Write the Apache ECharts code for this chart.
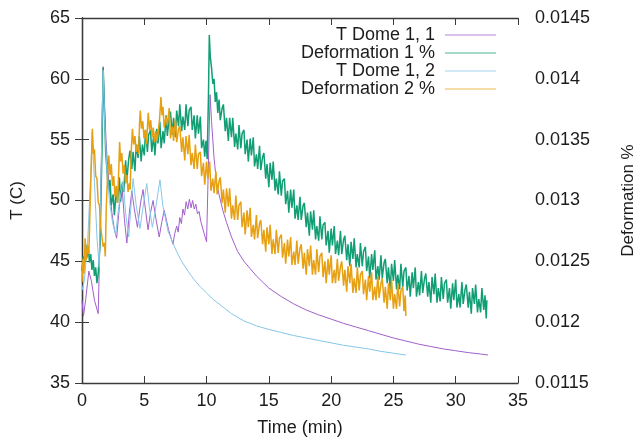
<!DOCTYPE html>
<html lang="en">
  <head>
    <meta charset="UTF-8" />
    <title>dome</title>
    <script src="https://cdn.jsdelivr.net/npm/echarts/dist/echarts.min.js"></script>
    <style>
      body { margin: 0; background: #fff; }
    </style>
  </head>
  <body>
    <div id="main" style="width: 634px; height: 440px;"></div>
    <script>
      // time ticks
      var timeTicks = [0, 5, 10, 15, 20, 25, 30, 35];

      // T Dome 1, 1  [min, C]
      var dome11 = [
        [0, 41.8], [0.12, 40.5], [0.3, 41.9], [0.55, 44.2], [0.75, 43.4], [1.0, 41.8], [1.3, 40.7],
        [1.45, 47], [1.58, 55], [1.7, 61.0], [1.8, 58], [1.95, 54.5], [2.15, 51.5], [2.4, 49.0],
        [2.6, 47.6], [2.78, 46.9], [3.0, 49.5], [3.2, 51.3], [3.4, 48.5], [3.6, 46.5], [3.8, 49],
        [4.0, 50.8], [4.2, 49.3], [4.45, 47.8], [4.7, 49.8], [4.9, 50.9], [5.1, 49.2], [5.3, 47.6],
        [5.5, 49], [5.7, 50.0], [5.95, 48.4], [6.2, 47.0], [6.4, 48.2], [6.6, 49.2], [6.95, 47.6],
        [7.3, 46.4], [7.45, 47.3], [7.6, 47.9], [7.72, 47.4], [7.85, 48.6], [7.98, 48.1], [8.1, 49.3],
        [8.23, 48.8], [8.36, 49.9], [8.49, 49.3], [8.62, 50.1], [8.75, 49.4], [8.88, 50.0], [9.01, 49.3],
        [9.14, 49.7], [9.27, 48.9], [9.4, 49.1], [9.53, 48.3], [9.66, 48.2], [9.8, 47.3], [10.0, 46.6],
        [10.28, 58.7], [10.4, 56.5], [10.6, 53.5], [10.8, 51.5], [11.0, 50.5], [11.3, 49.2], [11.6, 48.2],
        [12.0, 47.0], [12.5, 45.8], [13.0, 45.0], [13.5, 44.4], [14.0, 43.8], [14.5, 43.3], [15.0, 42.8],
        [16.0, 42.1], [17.0, 41.5], [18.0, 41.0], [19.0, 40.6], [20.0, 40.25], [21.0, 39.9], [22.0, 39.6],
        [23.0, 39.3], [24.0, 39.0], [25.0, 38.7], [26.0, 38.45], [27.0, 38.2], [28.0, 38.0], [29.0, 37.8],
        [30.0, 37.65], [31.0, 37.5], [32.0, 37.38], [32.6, 37.3]
      ];

      // T Dome 1, 2  [min, C]
      var dome12 = [
        [0, 42.6], [0.2, 43.5], [0.45, 46.5], [0.65, 51], [0.82, 55.6], [1.0, 51.5], [1.2, 47.0],
        [1.38, 44.5], [1.5, 50], [1.6, 56], [1.7, 60.7], [1.82, 56.5], [2.0, 52.5], [2.2, 50.0],
        [2.45, 48.2], [2.7, 47.2], [2.95, 49.5], [3.3, 51.6], [3.5, 49.0], [3.75, 47.0], [3.95, 49.8],
        [4.1, 51.8], [4.35, 49.6], [4.65, 47.7], [4.95, 49.8], [5.2, 51.4], [5.4, 49.5], [5.65, 47.8],
        [5.95, 49.6], [6.26, 51.7], [6.5, 49.5], [6.9, 47.5], [7.3, 46.5], [7.6, 45.8], [8.0, 45.0],
        [8.5, 44.2], [9.0, 43.5], [9.5, 42.9], [10.0, 42.4], [10.5, 41.9], [11.0, 41.5], [11.5, 41.1],
        [12.0, 40.7], [12.5, 40.4], [13.0, 40.1], [14.0, 39.7], [15.0, 39.4], [16.0, 39.15], [17.0, 38.9],
        [18.0, 38.7], [19.0, 38.5], [20.0, 38.3], [21.0, 38.1], [22.0, 37.95], [23.0, 37.8], [24.0, 37.6],
        [25.0, 37.45], [26.0, 37.3]
      ];

      // Deformation 1 %  [min, %]
      var deform1 = [
        [0.0, 0.01242], [0.1, 0.01254], [0.2, 0.01246], [0.3, 0.01264], [0.4, 0.01253], [0.5, 0.01262],
        [0.6, 0.01249], [0.7, 0.01256], [0.8, 0.01243], [0.9, 0.01251], [1.0, 0.01238], [1.1, 0.01245],
        [1.2, 0.01232], [1.3, 0.0124], [1.45, 0.01265], [1.6, 0.0134], [1.7, 0.01409], [1.8, 0.01375],
        [1.9, 0.0134], [2.0, 0.01326], [2.1, 0.0131],
        [2.25, 0.01317], [2.35, 0.01296], [2.5, 0.01305], [2.6, 0.01288], [2.75, 0.01309], [2.85, 0.01298],
        [3.0, 0.01319], [3.1, 0.01299], [3.25, 0.01315], [3.35, 0.01307], [3.5, 0.01333], [3.6, 0.01317],
        [3.75, 0.01334], [3.85, 0.01341], [4.0, 0.01326], [4.1, 0.0134], [4.25, 0.01324], [4.35, 0.01346],
        [4.5, 0.01335], [4.6, 0.01353], [4.75, 0.01332], [4.85, 0.01346], [5.0, 0.01337], [5.1, 0.01358],
        [5.25, 0.0134], [5.35, 0.01354], [5.5, 0.01358], [5.6, 0.0134], [5.75, 0.01353], [5.85, 0.01337],
        [6.0, 0.01359], [6.1, 0.01347], [6.25, 0.01365], [6.35, 0.01343], [6.5, 0.01357], [6.6, 0.01347],
        [6.75, 0.0137], [6.85, 0.01353], [7.0, 0.01368], [7.1, 0.01373], [7.25, 0.01354], [7.35, 0.01368],
        [7.5, 0.01352], [7.6, 0.01374], [7.75, 0.01361], [7.85, 0.01379], [8.0, 0.01357], [8.1, 0.01369],
        [8.25, 0.01358], [8.35, 0.01379], [8.5, 0.01361], [8.6, 0.01374], [8.75, 0.01377], [8.85, 0.01358],
        [9.0, 0.0137], [9.1, 0.01351], [9.25, 0.0137], [9.35, 0.01355], [9.5, 0.01369], [9.6, 0.01343],
        [9.75, 0.0135], [9.85, 0.01336], [9.95, 0.01349], [10.05, 0.01334], [10.15, 0.01385], [10.22, 0.01436],
        [10.3, 0.01418], [10.4, 0.01409], [10.5, 0.01396], [10.6, 0.014], [10.7, 0.01381], [10.8, 0.01389],
        [10.9, 0.01372], [11.0, 0.01383], [11.1, 0.01366], [11.25, 0.01376], [11.35, 0.01379], [11.5, 0.01357],
        [11.6, 0.01368], [11.75, 0.01349], [11.85, 0.01368], [12.0, 0.01352], [12.1, 0.01368], [12.25, 0.01344],
        [12.35, 0.01355], [12.5, 0.01342], [12.6, 0.01362], [12.75, 0.01343], [12.85, 0.01355], [13.0, 0.01358],
        [13.1, 0.01338], [13.25, 0.0135], [13.35, 0.01332], [13.5, 0.01351], [13.6, 0.01337], [13.75, 0.01352],
        [13.85, 0.01328], [14.0, 0.01338], [14.1, 0.01326], [14.25, 0.01345], [14.35, 0.01325], [14.5, 0.01336],
        [14.6, 0.01339], [14.75, 0.01318], [14.85, 0.0133], [15.0, 0.01311], [15.1, 0.01331], [15.25, 0.01317],
        [15.35, 0.01332], [15.5, 0.01308], [15.6, 0.01318], [15.75, 0.01305], [15.85, 0.01324], [16.0, 0.01304],
        [16.1, 0.01316], [16.25, 0.01318], [16.35, 0.01297], [16.5, 0.01308], [16.6, 0.0129], [16.75, 0.01309],
        [16.85, 0.01294], [17.0, 0.01309], [17.1, 0.01285], [17.25, 0.01296], [17.35, 0.01284], [17.5, 0.01303],
        [17.6, 0.01284], [17.75, 0.01296], [17.85, 0.01298], [18.0, 0.01278], [18.1, 0.0129], [18.25, 0.01271],
        [18.35, 0.01291], [18.5, 0.01276], [18.6, 0.01292], [18.75, 0.01268], [18.85, 0.01279], [19.0, 0.01267],
        [19.1, 0.01287], [19.25, 0.01268], [19.35, 0.0128], [19.5, 0.01282], [19.6, 0.01263], [19.75, 0.01275],
        [19.85, 0.01257], [20.0, 0.01277], [20.1, 0.01263], [20.25, 0.01279], [20.35, 0.01256], [20.5, 0.01267],
        [20.6, 0.01255], [20.75, 0.01275], [20.85, 0.01256], [21.0, 0.01268], [21.1, 0.01271], [21.25, 0.01251],
        [21.35, 0.01264], [21.5, 0.01246], [21.6, 0.01266], [21.75, 0.01252], [21.85, 0.01269], [22.0, 0.01245],
        [22.1, 0.01256], [22.25, 0.01245], [22.35, 0.01265], [22.5, 0.01246], [22.6, 0.01258], [22.75, 0.01262],
        [22.85, 0.01242], [23.0, 0.01254], [23.1, 0.01236], [23.25, 0.01256], [23.35, 0.01243], [23.5, 0.01259],
        [23.6, 0.01235], [23.75, 0.01246], [23.85, 0.01235], [24.0, 0.01255], [24.1, 0.01236], [24.25, 0.01249],
        [24.35, 0.01252], [24.5, 0.01232], [24.6, 0.01245], [24.75, 0.01227], [24.85, 0.01248], [25.0, 0.01234],
        [25.1, 0.01251], [25.25, 0.01227], [25.35, 0.01239], [25.5, 0.01227], [25.6, 0.01248], [25.75, 0.01229],
        [25.85, 0.01242], [26.0, 0.01245], [26.1, 0.01226], [26.25, 0.01238], [26.35, 0.01221], [26.5, 0.01241],
        [26.6, 0.01228], [26.75, 0.01245], [26.85, 0.01221], [27.0, 0.01233], [27.1, 0.01222], [27.25, 0.01242],
        [27.35, 0.01224], [27.5, 0.01236], [27.6, 0.0124], [27.75, 0.01221], [27.85, 0.01233], [28.0, 0.01216],
        [28.1, 0.01237], [28.25, 0.01223], [28.35, 0.0124], [28.5, 0.01216], [28.6, 0.01228], [28.75, 0.01217],
        [28.85, 0.01237], [29.0, 0.01219], [29.1, 0.01232], [29.25, 0.01235], [29.35, 0.01216], [29.5, 0.01228],
        [29.6, 0.01211], [29.75, 0.01232], [29.85, 0.01218], [30.0, 0.01235], [30.1, 0.01212], [30.25, 0.01223],
        [30.35, 0.01212], [30.5, 0.01233], [30.6, 0.01215], [30.75, 0.01227], [30.85, 0.01231], [31.0, 0.01212],
        [31.1, 0.01225], [31.25, 0.01207], [31.35, 0.01228], [31.5, 0.01215], [31.6, 0.01231], [31.75, 0.01208],
        [31.85, 0.01219], [32.0, 0.01208], [32.1, 0.01228], [32.25, 0.0121], [32.35, 0.01222], [32.45, 0.01203],
        [32.5, 0.01218]
      ];

      // Deformation 2 %  [min, %]
      var deform2 = [
        [0.0, 0.01233], [0.08, 0.01252], [0.16, 0.0124], [0.25, 0.01269], [0.35, 0.01251], [0.45, 0.01263],
        [0.55, 0.01256], [0.65, 0.01295], [0.75, 0.0133], [0.83, 0.01359], [0.92, 0.01338], [1.0, 0.01342],
        [1.1, 0.0132], [1.2, 0.01318], [1.3, 0.01299], [1.4, 0.01296], [1.5, 0.01278], [1.6, 0.01279],
        [1.7, 0.01262], [1.8, 0.01265], [1.87, 0.01254], [1.95, 0.01295], [2.05, 0.0132], [2.15, 0.01337],
        [2.25, 0.01321], [2.35, 0.0133], [2.45, 0.01312], [2.55, 0.0132], [2.65, 0.01303], [2.75, 0.01312],
        [2.85, 0.01298], [2.95, 0.01325], [3.02, 0.01348], [3.1, 0.01332], [3.2, 0.01339], [3.3, 0.01322],
        [3.4, 0.01329], [3.5, 0.01314], [3.6, 0.01321], [3.7, 0.01307], [3.8, 0.01314], [3.87, 0.01309],
        [3.95, 0.0134], [4.05, 0.01359], [4.15, 0.01346], [4.25, 0.01353], [4.35, 0.0134], [4.45, 0.01346],
        [4.55, 0.01338], [4.62, 0.01364], [4.68, 0.01374], [4.78, 0.01359], [4.88, 0.01365], [4.98, 0.01351],
        [5.08, 0.01358], [5.18, 0.01346], [5.25, 0.0136], [5.32, 0.01372], [5.42, 0.01358], [5.52, 0.01366],
        [5.62, 0.01352], [5.72, 0.0136], [5.82, 0.01348], [5.92, 0.01357], [6.02, 0.01349], [6.12, 0.01356],
        [6.22, 0.01366], [6.34, 0.01385], [6.42, 0.0137], [6.5, 0.01377], [6.6, 0.0136], [6.75, 0.01369],
        [6.85, 0.01362], [7.0, 0.01376], [7.1, 0.01351], [7.25, 0.01361], [7.35, 0.01349], [7.5, 0.01367],
        [7.6, 0.01348], [7.75, 0.01359], [7.85, 0.01361], [8.0, 0.0134], [8.1, 0.01352], [8.25, 0.01333],
        [8.35, 0.01353], [8.5, 0.01338], [8.6, 0.01354], [8.75, 0.01329], [8.85, 0.01339], [9.0, 0.01326],
        [9.1, 0.01346], [9.25, 0.01326], [9.35, 0.01338], [9.5, 0.0134], [9.6, 0.0132], [9.75, 0.01331],
        [9.85, 0.01313], [10.0, 0.01332], [10.1, 0.01318], [10.25, 0.01332], [10.35, 0.01308], [10.5, 0.01318],
        [10.6, 0.01306], [10.75, 0.01324], [10.85, 0.01305], [11.0, 0.01316], [11.1, 0.01319], [11.25, 0.01298],
        [11.35, 0.01309], [11.5, 0.0129], [11.6, 0.0131], [11.75, 0.01295], [11.85, 0.0131], [12.0, 0.01285],
        [12.1, 0.01296], [12.25, 0.01284], [12.35, 0.01304], [12.5, 0.01284], [12.6, 0.01296], [12.75, 0.01299],
        [12.85, 0.01278], [13.0, 0.0129], [13.1, 0.01272], [13.25, 0.01292], [13.35, 0.01278], [13.5, 0.01294],
        [13.6, 0.0127], [13.75, 0.0128], [13.85, 0.01268], [14.0, 0.01288], [14.1, 0.01269], [14.25, 0.01281],
        [14.35, 0.01284], [14.5, 0.01264], [14.6, 0.01276], [14.75, 0.01258], [14.85, 0.01278], [15.0, 0.01264],
        [15.1, 0.0128], [15.25, 0.01256], [15.35, 0.01268], [15.5, 0.01256], [15.6, 0.01276], [15.75, 0.01257],
        [15.85, 0.01269], [16.0, 0.01272], [16.1, 0.01253], [16.25, 0.01265], [16.35, 0.01248], [16.5, 0.01268],
        [16.6, 0.01254], [16.75, 0.0127], [16.85, 0.01247], [17.0, 0.01258], [17.1, 0.01247], [17.25, 0.01267],
        [17.35, 0.01248], [17.5, 0.01261], [17.6, 0.01264], [17.75, 0.01244], [17.85, 0.01257], [18.0, 0.01239],
        [18.1, 0.0126], [18.25, 0.01246], [18.35, 0.01263], [18.5, 0.01239], [18.6, 0.01251], [18.75, 0.01239],
        [18.85, 0.0126], [19.0, 0.01241], [19.1, 0.01254], [19.25, 0.01257], [19.35, 0.01237], [19.5, 0.0125],
        [19.6, 0.01232], [19.75, 0.01252], [19.85, 0.01239], [20.0, 0.01255], [20.1, 0.01232], [20.25, 0.01243],
        [20.35, 0.01232], [20.5, 0.01252], [20.6, 0.01234], [20.75, 0.01246], [20.85, 0.0125], [21.0, 0.0123],
        [21.1, 0.01243], [21.25, 0.01225], [21.35, 0.01246], [21.5, 0.01232], [21.6, 0.01248], [21.75, 0.01224],
        [21.85, 0.01236], [22.0, 0.01224], [22.1, 0.01245], [22.25, 0.01226], [22.35, 0.01239], [22.5, 0.01242],
        [22.6, 0.01223], [22.75, 0.01235], [22.85, 0.01218], [23.0, 0.01238], [23.1, 0.01225], [23.25, 0.01241],
        [23.35, 0.01218], [23.5, 0.01229], [23.6, 0.01218], [23.75, 0.01238], [23.85, 0.0122], [24.0, 0.01232],
        [24.1, 0.01236], [24.25, 0.01216], [24.35, 0.01229], [24.5, 0.01211], [24.6, 0.01232], [24.75, 0.01218],
        [24.85, 0.01235], [25.0, 0.01211], [25.1, 0.01223], [25.25, 0.01211], [25.35, 0.01232], [25.5, 0.01213],
        [25.6, 0.01226], [25.75, 0.01229], [25.85, 0.01209], [25.95, 0.01222], [26.0, 0.01205]
      ];

      var seriesNames = ["T Dome 1, 1", "Deformation 1 %", "T Dome 1, 2", "Deformation 2 %"];
      var seriesColors = ["#a15fcb", "#129e74", "#86c6e8", "#e6a012"];
      var seriesWidths = [1, 1.5, 1, 1.5];

      var font = "Liberation Sans, Arial, sans-serif";
      var ink = "#1c1c1c";
      var frame = { lineStyle: { color: "#3a3a3a", width: 1.3 } };
      var tick = { inside: true, length: 7, lineStyle: { color: "#3a3a3a" } };

      var myChart = echarts.init(document.getElementById("main"));

      function lineSeries(i, data, axis) {
        return {
          name: seriesNames[i],
          type: "line",
          yAxisIndex: axis,
          data: data,
          showSymbol: false,
          symbol: "none",
          animation: false,
          lineStyle: { width: seriesWidths[i], color: seriesColors[i] },
          itemStyle: { color: seriesColors[i] },
        };
      }

      var option = {
        animation: false,
        textStyle: { fontFamily: font },
        grid: { left: 82, right: 116, top: 18, bottom: 57, outerBoundsMode: "none", containLabel: false },
        legend: {
          orient: "vertical",
          right: 133,
          top: 21,
          align: "right",
          itemWidth: 51,
          itemHeight: 1,
          itemGap: 0,
          textStyle: { fontSize: 18, color: ink, fontFamily: font, lineHeight: 15.5, padding: [0, 5, 0, 0] },
          data: seriesNames.map(function (n, i) {
            return { name: n, icon: "rect", itemStyle: { color: seriesColors[i], opacity: 0.75 } };
          }),
        },
        xAxis: [
          {
            type: "value",
            min: timeTicks[0],
            max: timeTicks[timeTicks.length - 1],
            interval: 5,
            name: "Time (min)",
            nameLocation: "middle",
            nameGap: 36,
            nameTextStyle: { fontSize: 18, color: ink },
            axisLine: frame,
            axisTick: tick,
            axisLabel: { fontSize: 18, color: ink, margin: 9 },
            splitLine: { show: false },
          },
          {
            type: "value",
            position: "top",
            min: timeTicks[0],
            max: timeTicks[timeTicks.length - 1],
            interval: 5,
            axisLine: frame,
            axisTick: tick,
            axisLabel: { show: false },
            splitLine: { show: false },
          },
        ],
        yAxis: [
          {
            type: "value",
            min: 35,
            max: 65,
            interval: 5,
            name: "T (C)",
            nameLocation: "middle",
            nameRotate: 90,
            nameGap: 56,
            nameTextStyle: { fontSize: 17, color: ink },
            axisLine: frame,
            axisTick: tick,
            axisLabel: { fontSize: 18, color: ink, margin: 12 },
            splitLine: { show: false },
          },
          {
            type: "value",
            position: "right",
            min: 0.0115,
            max: 0.0145,
            interval: 0.0005,
            name: "Deformation %",
            nameLocation: "middle",
            nameRotate: 90,
            nameGap: 102,
            nameTextStyle: { fontSize: 17, color: ink },
            axisLine: frame,
            axisTick: tick,
            axisLabel: {
              fontSize: 18,
              color: ink,
              margin: 17,
              formatter: function (v) {
                return String(parseFloat(v.toFixed(4)));
              },
            },
            splitLine: { show: false },
          },
        ],
        series: [
          lineSeries(0, dome11, 0),
          lineSeries(1, deform1, 1),
          lineSeries(2, dome12, 0),
          lineSeries(3, deform2, 1),
        ],
      };

      myChart.setOption(option);
    </script>
  </body>
</html>
